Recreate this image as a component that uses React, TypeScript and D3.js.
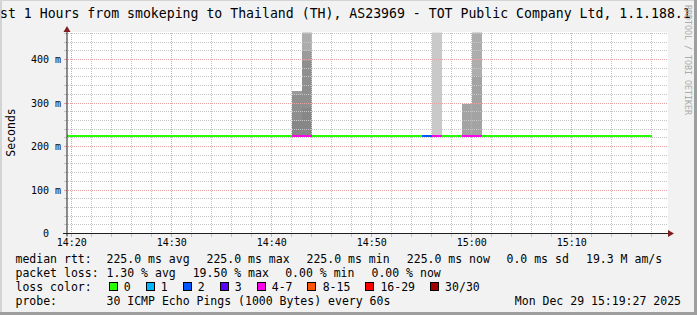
import React from "react";
import * as d3 from "d3";

const WIDTH = 697;
const HEIGHT = 315;

const titleText =
  "Last 1 Hours from smokeping to Thailand (TH), AS23969 - TOT Public Company Ltd, 1.1.188.1";
const yAxisTitle = "Seconds";
const watermark = "RRDTOOL / TOBI OETIKER";

const viewStart = "2025-12-29T14:19:31";
const viewEnd = "2025-12-29T15:19:31";
const firstStep = "2025-12-29T14:19:00";
const stepSeconds = 60;
const yMaxMs = 460;
const yTickValues = [0, 100, 200, 300, 400];
const yTickLabels = ["0", "100 m", "200 m", "300 m", "400 m"];
const xTickLabels = ["14:20", "14:30", "14:40", "14:50", "15:00", "15:10"];

// median rtt per 60 s step (ms), 14:19 .. 15:17
const medianMs = [
  225, 225, 225, 225, 225, 225, 225, 225, 225, 225,
  225, 225, 225, 225, 225, 225, 225, 225, 225, 225,
  225, 225, 225, 225, 225, 225, 225, 225, 225, 225,
  225, 225, 225, 225, 225, 225, 225, 225, 225, 225,
  225, 225, 225, 225, 225, 225, 225, 225, 225, 225,
  225, 225, 225, 225, 225, 225, 225, 225, 225,
];
// lost pings (of 30) per step
const lostPings = [
  0, 0, 0, 0, 0, 0, 0, 0, 0, 0,
  0, 0, 0, 0, 0, 0, 0, 0, 0, 0,
  0, 0, 0, 4, 5, 0, 0, 0, 0, 0,
  0, 0, 0, 0, 0, 0, 2, 4, 0, 0,
  4, 4, 0, 0, 0, 0, 0, 0, 0, 0,
  0, 0, 0, 0, 0, 0, 0, 0, 0,
];

// smoke: steps with spread, bands [from ms, to ms, shade level]
const smokeSteps = ["14:42", "14:43", "14:56", "14:59", "15:00"];
const smokeBands = [
  [[225, 259, 0], [259, 319, 1], [319, 328, 2]],
  [[225, 289, 0], [289, 396, 1], [396, 419, 2], [419, 520, 4]],
  [[225, 520, 5]],
  [[225, 298, 3]],
  [[225, 363, 3], [363, 520, 4]],
];

const lossLabels = ["0", "1", "2", "3", "4-7", "8-15", "16-29", "30/30"];
const lossUpper = [0, 1, 2, 3, 7, 15, 29, 30];
const lossColors = ["#26ff00", "#00b8ff", "#0059ff", "#5e00ff", "#ff00ea", "#ff5500", "#ff0000", "#a10000"];

const rttLabel = "median rtt:";
const rttStats = ["225.0 ms avg", "225.0 ms max", "225.0 ms min", "225.0 ms now", "0.0 ms sd", "19.3 M am/s"];
const lossLabel = "packet loss:";
const lossStats = ["1.30 % avg", "19.50 % max", "0.00 % min", "0.00 % now"];
const lossColorLabel = "loss color:";
const probeLabel = "probe:";
const probeText = "30 ICMP Echo Pings (1000 Bytes) every 60s";
const stampText = "Mon Dec 29 15:19:27 2025";

// styles
const MONO = "'DejaVu Sans Mono', monospace";
const smokeShades = ["#878787", "#8f8f8f", "#9a9a9a", "#a3a3a3", "#adadad", "#c9c9c9"];
const MINOR = "#c6c6c6";
const MAJOR = "#e6a2a2";
const ARROW = "#801f1f";
const AXIS = "#1f1f1f";

const PL = 67, PR = 667, PT = 33.5, PB = 233.5;

export default function App() {
  const x = d3.scaleTime().domain([new Date(viewStart), new Date(viewEnd)]).range([PL, PR]);
  const y = d3.scaleLinear().domain([0, yMaxMs]).range([PB, PT]);
  const t0 = new Date(firstStep).getTime();
  const stepDate = (i: number) => new Date(t0 + i * stepSeconds * 1000);
  const hm = (s: string) => new Date(`2025-12-29T${s}:00`);
  const snap = (v: number) => Math.floor(v) + 0.5;

  const minorX = d3.timeMinute.every(2)!.range(new Date(viewStart), new Date(viewEnd));
  const majorX = xTickLabels.map(hm);
  const isMajorX = (d: Date) => d.getMinutes() % 10 === 0;
  const minorY = d3.range(0, yMaxMs + 1, 20);

  const lossIdx = (n: number) => lossUpper.findIndex((u) => n <= u);

  const segs = medianMs.map((v, i) => {
    const p = d3.line<[number, number]>()([
      [x(stepDate(i)), y(v)],
      [x(stepDate(i + 1)), y(v)],
    ]);
    return { p, color: lossColors[lossIdx(lostPings[i])] };
  });

  // legend swatch layout
  let sx = 108.5;
  const swatches = lossLabels.map((l, i) => {
    const item = { x: sx, label: l, color: lossColors[i] };
    sx += 30.1 + l.length * 6.92;
    return item;
  });

  const rttX = [106.5, 206.5, 306.5, 406.8, 506.5, 586];
  const lossX = [106.5, 192.7, 285.2, 371.5];

  return (
    <svg width={WIDTH} height={HEIGHT} style={{ display: "block", position: "absolute", left: 0, top: 0 }} fontFamily={MONO}>
      <defs>
        <clipPath id="plotclip">
          <rect x={PL} y={PT - 1} width={PR - PL + 1} height={PB - PT + 1} />
        </clipPath>
      </defs>
      <rect x={0} y={0} width={WIDTH} height={HEIGHT} fill="#f2f2f2" />
      {/* shade border */}
      <rect x={0} y={0} width={2} height={HEIGHT} fill="#d4d4d4" />
      <rect x={0} y={0} width={WIDTH} height={1} fill="#d4d4d4" />
      <rect x={WIDTH - 3} y={0} width={3} height={HEIGHT} fill="#9e9e9e" />
      <rect x={0} y={HEIGHT - 3} width={WIDTH} height={3} fill="#9e9e9e" />

      {/* canvas */}
      <rect x={PL} y={32} width={PR - PL + 1} height={PB - 32} fill="#ffffff" />

      {/* smoke */}
      <g clipPath="url(#plotclip)" shapeRendering="crispEdges">
        {smokeSteps.map((s, si) => {
          const a = Math.round(x(hm(s)));
          const b = Math.round(x(new Date(hm(s).getTime() + stepSeconds * 1000)));
          return smokeBands[si].map((band, bi) => {
            const top = Math.round(y(band[1]));
            const bot = Math.round(y(band[0]));
            return <rect key={`${si}-${bi}`} x={a} y={top} width={b - a} height={bot - top} fill={smokeShades[band[2]]} />;
          });
        })}
      </g>

      {/* grid */}
      <g strokeDasharray="1,1" strokeWidth={1} shapeRendering="crispEdges">
        {minorY.map((v) => (
          <line key={`hy${v}`} x1={PL - 3} x2={PR + 1} y1={snap(y(v))} y2={snap(y(v))}
            stroke={v % 100 === 0 ? MAJOR : MINOR} />
        ))}
        {minorX.map((d) => (
          <line key={`vx${+d}`} x1={snap(x(d))} x2={snap(x(d))} y1={PT - 1} y2={PB + 3}
            stroke={isMajorX(d) ? MAJOR : MINOR} />
        ))}
      </g>
      <g shapeRendering="crispEdges" strokeWidth={1}>
        {minorX.map((d) => (
          <line key={`tx${+d}`} x1={snap(x(d))} x2={snap(x(d))} y1={PB} y2={PB + 3}
            stroke={isMajorX(d) ? MAJOR : MINOR} />
        ))}
        {minorY.map((v) => (
          <line key={`ty${v}`} x1={PL - 3} x2={PL} y1={snap(y(v))} y2={snap(y(v))}
            stroke={v % 100 === 0 ? MAJOR : MINOR} />
        ))}
      </g>

      {/* median line */}
      <g clipPath="url(#plotclip)">
        {segs.map((s, i) => (
          <path key={i} d={s.p ?? ""} stroke={s.color} strokeWidth={2} fill="none" shapeRendering="crispEdges" />
        ))}
      </g>

      {/* axes */}
      <line x1={PL - 4} x2={PR + 1} y1={PB} y2={PB} stroke={AXIS} strokeWidth={1} />
      <line x1={PL} x2={PL} y1={PB + 3} y2={30} stroke={AXIS} strokeWidth={1} />
      <path d={`M${PR + 1},${PB - 3.5} L${PR + 7},${PB} L${PR + 1},${PB + 3.5} Z`} fill={ARROW} />
      <path d={`M${PL - 3.5},${32} L${PL},${26} L${PL + 3.5},${32} Z`} fill={ARROW} />

      {/* y labels */}
      {yTickValues.map((v, i) => (
        <text key={`yl${v}`} x={v === 0 ? 49 : 61} y={y(v) + 3.6} fontSize={10} textAnchor="end" fill="#000">
          {yTickLabels[i]}
        </text>
      ))}
      {/* x labels */}
      {majorX.map((d, i) => (
        <text key={`xl${i}`} x={x(d)} y={246} fontSize={10} textAnchor="middle" fill="#000">
          {xTickLabels[i]}
        </text>
      ))}

      {/* titles */}
      <text x={-15.9} y={18} fontSize={13.2} fill="#000">{titleText}</text>
      <text transform="translate(15,132.5) rotate(-90)" fontSize={11.5} textAnchor="middle" fill="#000">{yAxisTitle}</text>
      <text transform="translate(684.5,5) rotate(90)" fontSize={8.3} fill="#ababab">{watermark}</text>

      {/* legend */}
      <g fontSize={11.5} fill="#000">
        <text x={15.5} y={263.3}>{rttLabel}</text>
        {rttStats.map((s, i) => (
          <text key={`r${i}`} x={rttX[i]} y={263.3}>{s}</text>
        ))}
        <text x={15.5} y={277.3}>{lossLabel}</text>
        {lossStats.map((s, i) => (
          <text key={`l${i}`} x={lossX[i]} y={277.3}>{s}</text>
        ))}
        <text x={15.5} y={291.3}>{lossColorLabel}</text>
        {swatches.map((s, i) => (
          <g key={`sw${i}`}>
            <rect x={s.x + 0.5} y={282.5} width={8} height={8} fill={s.color} stroke="#000" strokeWidth={1} shapeRendering="crispEdges" />
            <text x={s.x + 15.2} y={291.3}>{s.label}</text>
          </g>
        ))}
        <text x={15.5} y={305.3}>{probeLabel}</text>
        <text x={106.5} y={305.3}>{probeText}</text>
        <text x={681} y={305.3} textAnchor="end">{stampText}</text>
      </g>
    </svg>
  );
}
